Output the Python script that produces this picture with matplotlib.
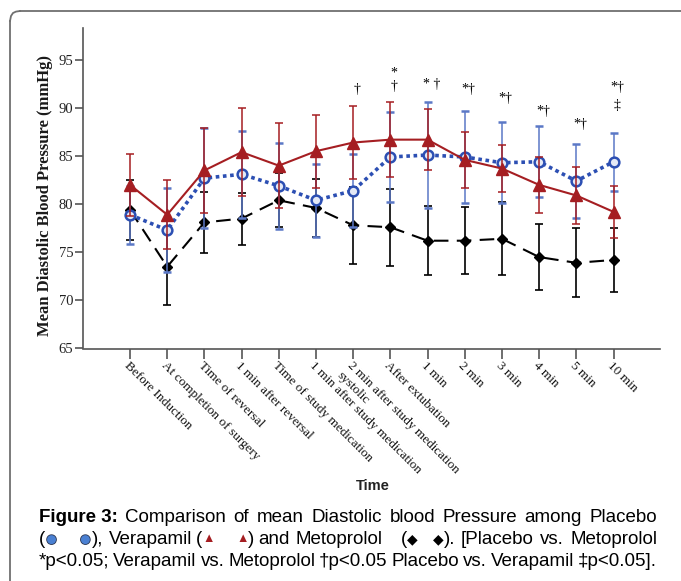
import matplotlib
matplotlib.use("Agg")
import matplotlib.pyplot as plt
import matplotlib.patheffects as pe
from matplotlib.lines import Line2D

W, H = 681, 581

time_labels = ["Before Induction", "At completion of surgery", "Time of reversal",
               "1 min after reversal", "Time of study medication",
               "1 min after study medication", "2 min after study medication\nsystolic",
               "After extubation", "1 min", "2 min", "3 min", "4 min", "5 min", "10 min"]

placebo = [78.9, 77.3, 82.7, 83.1, 81.9, 80.4, 81.4, 84.9, 85.1, 84.9, 84.3, 84.4, 82.4, 84.4]
placebo_err = [3.0, 4.4, 5.2, 4.5, 4.5, 3.8, 3.8, 4.7, 5.5, 4.8, 4.2, 3.7, 3.8, 3.0]
verapamil = [82.0, 78.9, 83.5, 85.4, 84.0, 85.5, 86.4, 86.7, 86.7, 84.6, 83.7, 82.0, 80.9, 79.2]
verapamil_err = [3.2, 3.6, 4.4, 4.6, 4.4, 3.8, 3.8, 3.9, 3.2, 2.9, 2.4, 2.9, 3.0, 2.7]
metoprolol = [79.4, 73.5, 78.1, 78.5, 80.4, 79.6, 77.8, 77.6, 76.2, 76.2, 76.4, 74.5, 73.9, 74.2]
metoprolol_err = [3.1, 4.0, 3.2, 2.7, 2.8, 3.0, 4.0, 4.0, 3.6, 3.5, 3.8, 3.4, 3.6, 3.3]

sig_x = [6, 7, 7, 8, 9, 10, 11, 12, 13, 13]
sig_text = ["†", "*", "†", "* †", "*†", "*†", "*†", "*†", "*†", "‡"]
sig_y = [91.9, 93.6, 92.2, 92.4, 91.9, 91.0, 89.6, 88.3, 92.1, 90.2]

RED = "#a51e22"
BLUE = "#2c4fb3"
BLUE_ERR = "#5b78c6"
AXC = "#555555"
serif = ["Liberation Serif", "DejaVu Serif"]
sans = ["Liberation Sans", "DejaVu Sans"]

fig = plt.figure(figsize=(W / 100, H / 100), dpi=100)
ax = fig.add_axes([83 / W, 1 - 348.5 / H, (660 - 83) / W, (348.5 - 28) / H])

x = list(range(len(time_labels)))

ax.errorbar(x, metoprolol, yerr=metoprolol_err, color="black", lw=1.5, ls=(0, (7, 4)),
            marker="D", ms=5.5, mfc="black", mec="black", elinewidth=1.2, capsize=3,
            capthick=1.2, zorder=3)
ax.errorbar(x, placebo, yerr=placebo_err, color=BLUE, lw=2.6, ls=(0, (1, 1)),
            marker="o", ms=7, mfc="#e4e9f6", mec=BLUE, mew=1.8, ecolor=BLUE_ERR,
            elinewidth=1.1, capsize=3, capthick=1.1, zorder=4)
ax.errorbar(x, verapamil, yerr=verapamil_err, color=RED, lw=1.5, marker="^", ms=8,
            mfc=RED, mec=RED, elinewidth=1.1, capsize=3, capthick=1.1, zorder=5)

for sx, st, sy in zip(sig_x, sig_text, sig_y):
    ax.text(sx + 0.1, sy, st, ha="center", va="center", fontsize=10, family=serif, color="black")

ax.set_xlim(-1.264, 14.25)
ax.set_ylim(65, 98.3)
ax.set_yticks([65, 70, 75, 80, 85, 90, 95])
ax.set_xticks(x)
ax.set_xticklabels(time_labels, rotation=-45, ha="left", va="top", rotation_mode="anchor",
                   family=serif, fontsize=9.5, color="#111111")
for lab in ax.get_yticklabels():
    lab.set_family(serif)
    lab.set_fontsize(10.5)
    lab.set_color("#222222")
ax.tick_params(axis="x", length=7, width=1.2, color=AXC, pad=1)
ax.tick_params(axis="y", length=6, width=1.2, color=AXC, pad=1)
for side in ["top", "right"]:
    ax.spines[side].set_visible(False)
for side in ["left", "bottom"]:
    ax.spines[side].set_color(AXC)
    ax.spines[side].set_linewidth(1.2)

fig.text(45 / W, 1 - 195 / H, "Mean Diastolic Blood Pressure (mmHg)", rotation=90,
         ha="center", va="center", family=serif, fontweight="bold", fontsize=12, color="#1a1a1a")
fig.text(372.7 / W, 1 - 485.7 / H, "Time", ha="center", va="center", family=sans,
         fontweight="bold", fontsize=10.5, color="#222222")

# frame: left edge and top edge joined by a rounded corner
fig.add_artist(Line2D([10 / W, 10 / W], [0, 1 - 21 / H], transform=fig.transFigure,
                      color="#707070", lw=1.3))
fig.add_artist(Line2D([20 / W, 1], [1 - 11 / H, 1 - 11 / H], transform=fig.transFigure,
                      color="#707070", lw=1.3))
fig.add_artist(Line2D([10 / W, 11 / W, 13 / W, 16 / W, 20 / W],
                      [1 - 21 / H, 1 - 16 / H, 1 - 13 / H, 1 - 11.6 / H, 1 - 11 / H],
                      transform=fig.transFigure, color="#707070", lw=1.3))

# caption, justified line by line
K = "black"
CBLUE = "#4a80d2"
cap_size = 13.5
renderer = fig.canvas.get_renderer()


def word(s, color=K, weight="normal", size=None):
    return [(s, color, weight, size)]


line1 = [[("Figure 3:", K, "bold", None)]] + [word(w) for w in
        "Comparison of mean Diastolic blood Pressure among Placebo".split()]
line2 = [[("(", K, "normal", None), ("●", CBLUE, "normal", 15)],
         [("●", CBLUE, "normal", 15), ("),", K, "normal", None)],
         word("Verapamil"),
         [("(", K, "normal", None), ("▲", RED, "normal", 9)],
         [("▲", RED, "normal", 9), (")", K, "normal", None)],
         word("and"), word("Metoprolol"),
         [("(", K, "normal", None), ("◆", K, "normal", 10)],
         [("◆", K, "normal", 10), (").", K, "normal", None)],
         word("[Placebo"), word("vs."), word("Metoprolol")]
line2_gaps = [3.5, 1, 0.6, 3.5, 0.6, 1, 3, 2.5, 1, 1, 1]
line3 = [word(w) for w in
         "*p<0.05; Verapamil vs. Metoprolol †p<0.05 Placebo vs. Verapamil ‡p<0.05].".split()]


def draw_line(tokens, y_px, weights=None, x0=39, x1=657):
    items = []
    widths = []
    for tok in tokens:
        segs = []
        w = 0
        for s, color, weight, size in tok:
            t = fig.text(0, 1 - y_px / H, s, color=color, fontweight=weight,
                         fontsize=size or cap_size, family=sans, ha="left", va="center_baseline")
            if s == "●":
                t.set_path_effects([pe.withStroke(linewidth=1.2, foreground="#2a3550")])
            segs.append((t, w))
            w += t.get_window_extent(renderer).width
        items.append(segs)
        widths.append(w)
    if weights is None:
        weights = [1] * (len(tokens) - 1)
    unit = (x1 - x0 - sum(widths)) / sum(weights)
    xp = x0
    for i, (segs, w) in enumerate(zip(items, widths)):
        for t, off in segs:
            t.set_x((xp + off) / W)
        if i < len(weights):
            xp += w + unit * weights[i]


draw_line(line1, 516)
draw_line(line2, 538, line2_gaps)
draw_line(line3, 560)

fig.savefig("out.png", dpi=100)
